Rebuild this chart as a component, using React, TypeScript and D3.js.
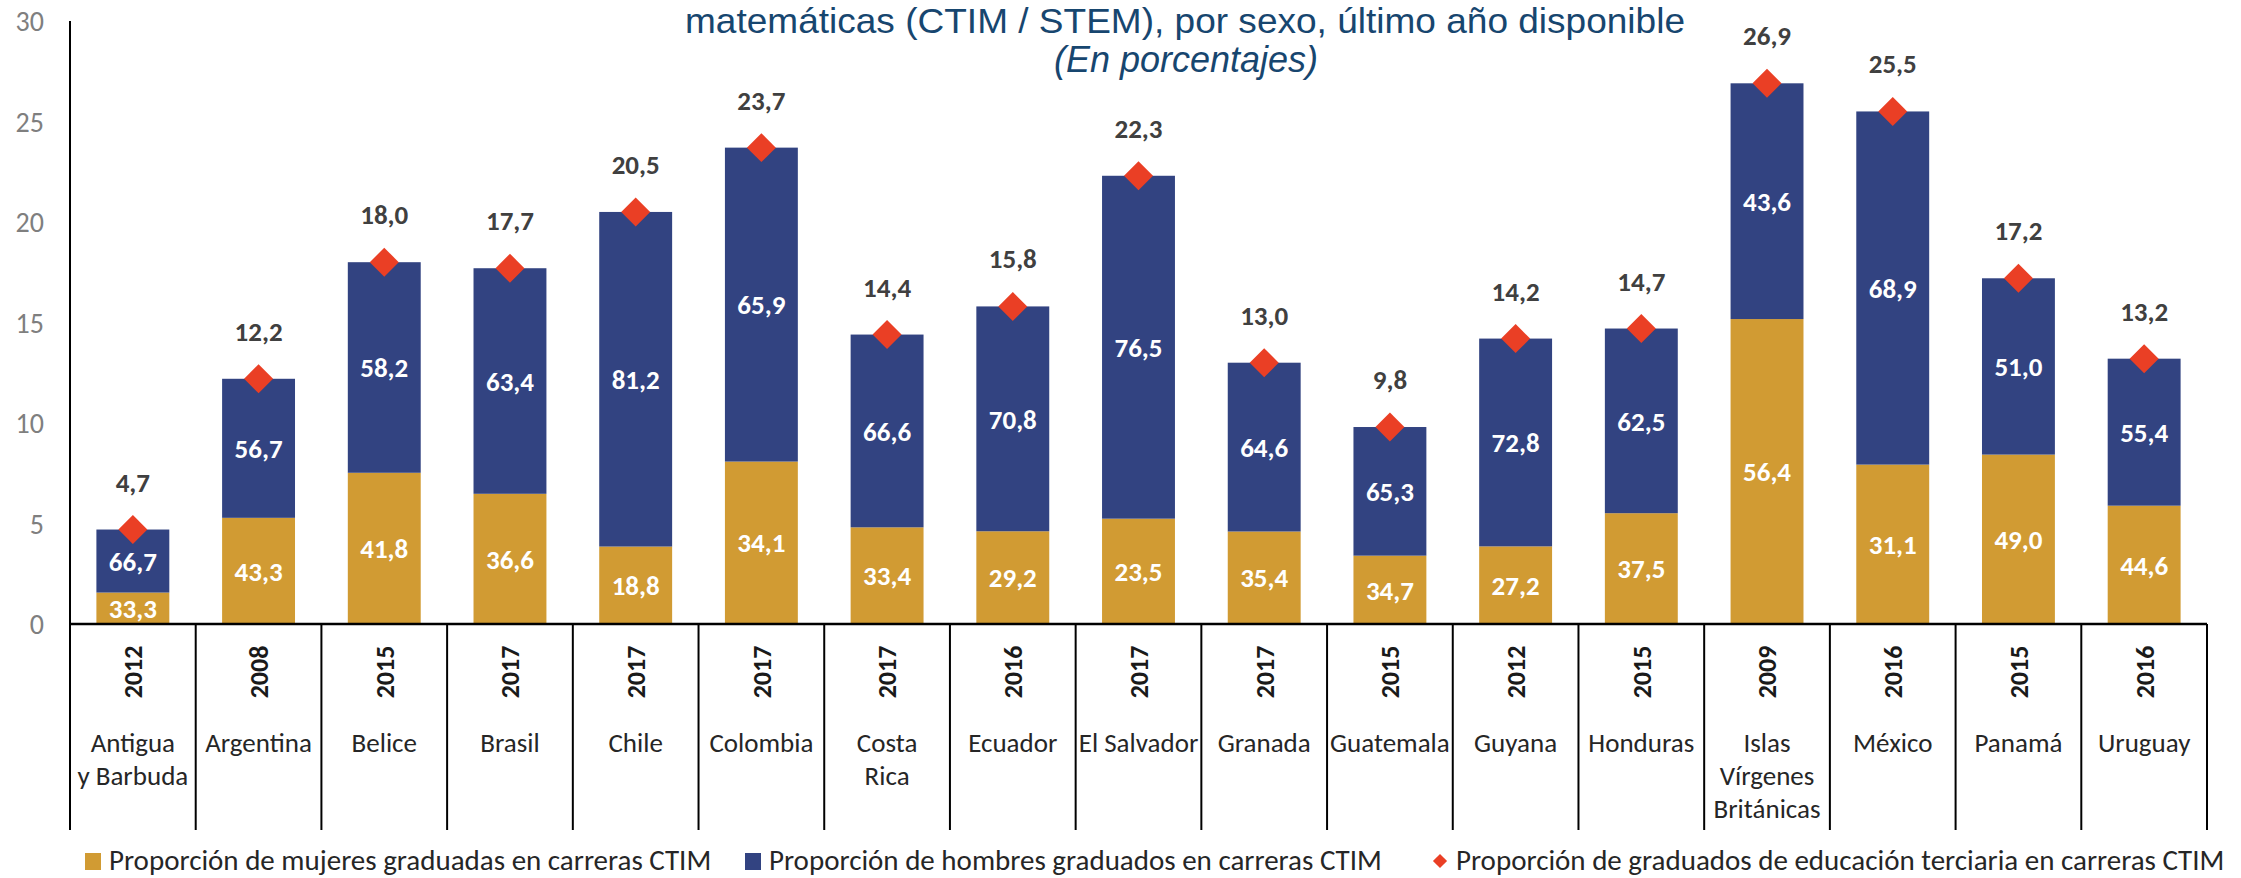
import React, { useEffect, useRef } from "react";
import * as d3 from "d3";

const countries = [
  "Antigua\ny Barbuda", "Argentina", "Belice", "Brasil", "Chile", "Colombia",
  "Costa\nRica", "Ecuador", "El Salvador", "Granada", "Guatemala", "Guyana",
  "Honduras", "Islas\nVírgenes\nBritánicas", "México", "Panamá", "Uruguay",
];
const years = [
  "2012", "2008", "2015", "2017", "2017", "2017", "2017", "2016", "2017",
  "2017", "2015", "2012", "2015", "2009", "2016", "2015", "2016",
];
// share of women / men among STEM graduates (%)
const womenPct = [33.3, 43.3, 41.8, 36.6, 18.8, 34.1, 33.4, 29.2, 23.5, 35.4, 34.7, 27.2, 37.5, 56.4, 31.1, 49.0, 44.6];
const menPct = [66.7, 56.7, 58.2, 63.4, 81.2, 65.9, 66.6, 70.8, 76.5, 64.6, 65.3, 72.8, 62.5, 43.6, 68.9, 51.0, 55.4];
// share of tertiary graduates in STEM (%)
const totals = [4.7, 12.2, 18.0, 17.7, 20.5, 23.7, 14.4, 15.8, 22.3, 13.0, 9.8, 14.2, 14.7, 26.9, 25.5, 17.2, 13.2];
const yTicks = [0, 5, 10, 15, 20, 25, 30];

const legendLabels = [
  "Proporción de mujeres graduadas en carreras CTIM",
  "Proporción de hombres graduados en carreras CTIM",
  "Proporción de graduados de educación terciaria en carreras CTIM",
];

const GOLD = "#d19b33";
const BLUE = "#324381";
const RED = "#ea3f25";
const FONT = "Carlito, Lato, sans-serif";

export default function App() {
  const ref = useRef<SVGSVGElement>(null);

  useEffect(() => {
    const svg = d3.select(ref.current);
    svg.selectAll("*").remove();

    const fmt = d3.formatLocale({ decimal: ",", thousands: ".", grouping: [3], currency: ["", ""] }).format(".1f");

    const data = countries.map((c, i) => {
      const w = (totals[i] * womenPct[i]) / 100;
      return { c, i, year: years[i], total: totals[i], w, wp: womenPct[i], mp: menPct[i] };
    });

    const x = d3.scaleBand().domain(countries).range([70, 2207]).paddingInner(0.42).paddingOuter(0.21);
    const y = d3.scaleLinear().domain([0, 30]).range([624, 21]);
    const step = x.step();
    const half = (step * 0.42) / 2;
    const cx = (d) => x(d.c) + x.bandwidth() / 2;

    // title
    svg.append("text")
      .attr("x", 1185).attr("y", 33)
      .attr("text-anchor", "middle")
      .attr("font-family", "Liberation Sans, Arial, sans-serif")
      .attr("font-size", 35)
      .attr("textLength", 1000).attr("lengthAdjust", "spacingAndGlyphs")
      .attr("fill", "#17466f")
      .text("matemáticas (CTIM / STEM), por sexo, último año disponible");
    svg.append("text")
      .attr("x", 1186).attr("y", 72)
      .attr("text-anchor", "middle")
      .attr("font-family", "Liberation Sans, Arial, sans-serif")
      .attr("font-style", "italic")
      .attr("font-size", 36)
      .attr("fill", "#17466f")
      .text("(En porcentajes)");

    // y ticks
    svg.append("g").selectAll("text")
      .data(yTicks).enter().append("text")
      .attr("x", 44).attr("y", (d) => y(d))
      .attr("dy", "0.36em")
      .attr("text-anchor", "end")
      .attr("font-family", FONT).attr("font-size", 28)
      .attr("fill", "#7f7f7f")
      .text((d) => d);

    // bars
    const g = svg.append("g");
    g.selectAll(".w").data(data).enter().append("rect")
      .attr("x", (d) => x(d.c)).attr("width", x.bandwidth())
      .attr("y", (d) => y(d.w)).attr("height", (d) => y(0) - y(d.w))
      .attr("fill", GOLD);
    g.selectAll(".m").data(data).enter().append("rect")
      .attr("x", (d) => x(d.c)).attr("width", x.bandwidth())
      .attr("y", (d) => y(d.total)).attr("height", (d) => y(d.w) - y(d.total))
      .attr("fill", BLUE);

    // segment labels
    const lbl = svg.append("g")
      .attr("font-family", FONT).attr("font-size", 27).attr("font-weight", "bold")
      .attr("fill", "#ffffff").attr("text-anchor", "middle");
    lbl.selectAll(".lw").data(data).enter().append("text")
      .attr("x", cx).attr("y", (d) => (y(0) + y(d.w)) / 2).attr("dy", "0.36em")
      .text((d) => fmt(d.wp));
    lbl.selectAll(".lm").data(data).enter().append("text")
      .attr("x", cx).attr("y", (d) => (y(d.w) + y(d.total)) / 2).attr("dy", "0.36em")
      .text((d) => fmt(d.mp));

    // diamonds + total labels
    const diamond = d3.symbol().type(d3.symbolSquare).size(420);
    svg.append("g").selectAll("path").data(data).enter().append("path")
      .attr("d", diamond)
      .attr("transform", (d) => `translate(${cx(d)},${y(d.total)}) rotate(45)`)
      .attr("fill", RED);
    svg.append("g").selectAll("text").data(data).enter().append("text")
      .attr("x", cx).attr("y", (d) => y(d.total) - 38)
      .attr("text-anchor", "middle")
      .attr("font-family", FONT).attr("font-size", 27).attr("font-weight", "bold")
      .attr("fill", "#404040")
      .text((d) => fmt(d.total));

    // axes
    svg.append("line")
      .attr("x1", 70).attr("x2", 70).attr("y1", y(30)).attr("y2", y(0))
      .attr("stroke", "#000").attr("stroke-width", 2);
    svg.append("line")
      .attr("x1", 70).attr("x2", 2207).attr("y1", y(0)).attr("y2", y(0))
      .attr("stroke", "#000").attr("stroke-width", 2.5);

    // category separators
    const bounds = countries.map((c) => x(c) - half).concat([x(countries[countries.length - 1]) + x.bandwidth() + half]);
    svg.append("g").selectAll("line").data(bounds).enter().append("line")
      .attr("x1", (d) => d).attr("x2", (d) => d)
      .attr("y1", y(0)).attr("y2", 830)
      .attr("stroke", "#000").attr("stroke-width", 2);

    // years (rotated)
    svg.append("g").selectAll("text").data(data).enter().append("text")
      .attr("transform", (d) => `translate(${cx(d)},672) rotate(-90)`)
      .attr("text-anchor", "middle").attr("dy", "0.36em")
      .attr("font-family", FONT).attr("font-size", 26).attr("font-weight", "bold")
      .attr("fill", "#1a1a1a")
      .text((d) => d.year);

    // country names
    const names = svg.append("g").selectAll("text").data(data).enter().append("text")
      .attr("text-anchor", "middle")
      .attr("font-family", FONT).attr("font-size", 27)
      .attr("fill", "#262626");
    names.selectAll("tspan")
      .data((d) => d.c.split("\n").map((t) => ({ t, x: cx(d) })))
      .enter().append("tspan")
      .attr("x", (d) => d.x)
      .attr("y", (d, j) => 752 + j * 33)
      .text((d) => d.t);

    // legend
    const lg = svg.append("g")
      .attr("font-family", FONT).attr("font-size", 29).attr("fill", "#262626");
    const lx = [85, 745, 1432];
    lg.append("rect").attr("x", lx[0]).attr("y", 853).attr("width", 16).attr("height", 17).attr("fill", GOLD);
    lg.append("rect").attr("x", lx[1]).attr("y", 853).attr("width", 16).attr("height", 17).attr("fill", BLUE);
    lg.append("path")
      .attr("d", d3.symbol().type(d3.symbolSquare).size(100))
      .attr("transform", `translate(${lx[2] + 8},861) rotate(45)`)
      .attr("fill", RED);
    legendLabels.forEach((t, i) => {
      lg.append("text").attr("x", lx[i] + 24).attr("y", 870).text(t);
    });
  }, []);

  return (
    <svg
      ref={ref}
      width={2241}
      height={878}
      style={{ position: "absolute", left: 0, top: 0, display: "block", background: "#fff" }}
    ></svg>
  );
}
